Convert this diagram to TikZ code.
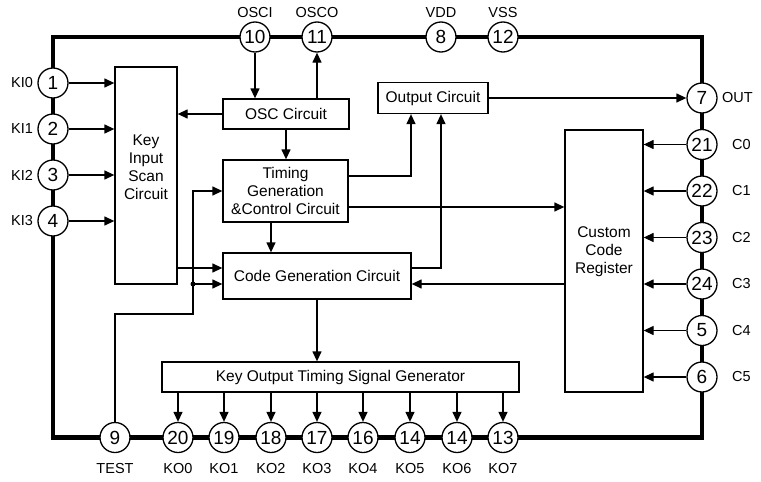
\documentclass[tikz,border=0pt]{standalone}
\usepackage{fontspec}
\setmainfont{Liberation Sans}
\usetikzlibrary{arrows.meta}
\begin{document}
\begin{tikzpicture}[x=1pt,y=-1pt,
  frame/.style={line width=4.5pt},
  pin/.style={circle,draw,line width=1.3pt,fill=white,minimum size=30pt,inner sep=0pt,
    font=\fontsize{19}{19}\selectfont},
  lbl/.style={font=\fontsize{14.5}{14.5}\selectfont,inner sep=0pt},
  blk/.style={draw,line width=1.3pt,fill=white,inner sep=0pt},
  txt/.style={font=\fontsize{15.5}{18}\selectfont,align=center,inner sep=0pt},
  conn/.style={line width=1.3pt,-{Triangle[length=10pt,width=9pt]}},
  wire/.style={line width=1.3pt}]
\useasboundingbox (0,0) rectangle (761,482);
% frame
\draw[frame] (53,37) rectangle (702,437.5);
% top pins
\node[pin] (p10) at (255,37) {10};
\node[pin] (p11) at (317,37) {11};
\node[pin] (p8) at (441,37) {8};
\node[pin] (p12) at (503,37) {12};
\node[lbl] (l10) at (255,13) {OSCI};
\node[lbl] (l11) at (317,13) {OSCO};
\node[lbl] (l8) at (441,13) {VDD};
\node[lbl] (l12) at (503,13) {VSS};
% left pins
\node[pin] (p1) at (53,83) {1};
\node[pin] (p2) at (53,129) {2};
\node[pin] (p3) at (53,175) {3};
\node[pin] (p4) at (53,221) {4};
\node[lbl] (l1) at (22,83) {KI0};
\node[lbl] (l2) at (22,129) {KI1};
\node[lbl] (l3) at (22,175) {KI2};
\node[lbl] (l4) at (22,221) {KI3};
% right pins
\node[pin] (p7) at (702,98) {7};
\node[pin] (p21) at (702,144.5) {21};
\node[pin] (p22) at (702,191) {22};
\node[pin] (p23) at (702,237.5) {23};
\node[pin] (p24) at (702,284) {24};
\node[pin] (p5) at (702,330.5) {5};
\node[pin] (p6) at (702,377) {6};
\node[lbl,anchor=west] (l7) at (722,98) {OUT};
\node[lbl,anchor=west] (l21) at (732,144.5) {C0};
\node[lbl,anchor=west] (l22) at (732,191) {C1};
\node[lbl,anchor=west] (l23) at (732,237.5) {C2};
\node[lbl,anchor=west] (l24) at (732,284) {C3};
\node[lbl,anchor=west] (l5) at (732,330.5) {C4};
\node[lbl,anchor=west] (l6) at (732,377) {C5};
% bottom pins
\node[pin] (p9) at (115,437.5) {9};
\node[pin] (p20) at (178,437.5) {20};
\node[pin] (p19) at (224,437.5) {19};
\node[pin] (p18) at (271,437.5) {18};
\node[pin] (p17) at (317,437.5) {17};
\node[pin] (p16) at (363,437.5) {16};
\node[pin] (p14a) at (410,437.5) {14};
\node[pin] (p14b) at (457,437.5) {14};
\node[pin] (p13) at (503,437.5) {13};
\node[lbl] (l9) at (115,469) {TEST};
\node[lbl] (l20) at (178,469) {KO0};
\node[lbl] (l19) at (224,469) {KO1};
\node[lbl] (l18) at (271,469) {KO2};
\node[lbl] (l17) at (317,469) {KO3};
\node[lbl] (l16) at (363,469) {KO4};
\node[lbl] (l14a) at (410,469) {KO5};
\node[lbl] (l14b) at (457,469) {KO6};
\node[lbl] (l13) at (503,469) {KO7};
% blocks
\node[blk,minimum width=62pt,minimum height=217pt] (kis) at (146,175.5) {};
\node[txt] (kist) at (146,167.5) {Key\\Input\\Scan\\Circuit};
\node[blk,minimum width=126pt,minimum height=30pt,txt] (osc) at (286,114) {OSC Circuit};
\node[blk,minimum width=125pt,minimum height=62pt,txt] (tim) at (285.5,191) {Timing\\Generation\\\&Control Circuit};
\node[blk,minimum width=188pt,minimum height=46pt,txt] (cg) at (317,276) {Code Generation Circuit};
\node[blk,minimum width=110pt,minimum height=31pt,txt] (outc) at (433,98) {Output Circuit};
\node[blk,minimum width=78pt,minimum height=262pt] (ccr) at (604,261) {};
\node[txt] (ccrt) at (604,251.5) {Custom\\Code\\Register};
\node[blk,minimum width=357pt,minimum height=30pt,txt] (kot) at (340.5,377) {Key Output Timing Signal Generator};
% connections
\foreach \p in {p1,p2,p3,p4} \draw[conn] (\p) -- (\p -| kis.west);
\foreach \p in {p21,p22,p23,p24,p5,p6} \draw[conn] (\p) -- (\p -| ccr.east);
\foreach \p in {p20,p19,p18,p17,p16,p14a,p14b,p13} \draw[conn] (kot.south -| \p) -- (\p);
\draw[conn] (p10) -- (p10 |- osc.north);
\draw[conn] (osc.north -| p11) -- (p11);
\draw[conn] (osc.west) -- (osc.west -| kis.east);
\draw[conn] (osc.south) -- (osc.south |- tim.north);
\draw[conn] ([yshift=15pt]tim.east) -| ([xshift=-22pt]outc.south);
\draw[conn] ([yshift=-16pt]tim.east) -- ([yshift=-16pt]tim.east -| ccr.west);
\draw[conn] ([xshift=-14.5pt]tim.south) -- ([xshift=-14.5pt]tim.south |- cg.north);
\draw[conn] (kis.east |- 0,268) -- (cg.west |- 0,268);
\draw[conn] (cg.east |- 0,268) -| ([xshift=8pt]outc.south);
\draw[conn] (ccr.west |- 0,284) -- (cg.east |- 0,284);
\draw[conn] (outc.east) -- (p7);
\draw[conn] (cg.south) -- (cg.south |- kot.north);
\coordinate (tj) at (193,284);
\draw[conn] (p9) -- (p9 |- 0,314) -| (tj) |- (tim.west);
\draw[conn] (tj) -- (tj -| cg.west);
\fill (tj) circle (2.5pt);
\end{tikzpicture}
\end{document}
